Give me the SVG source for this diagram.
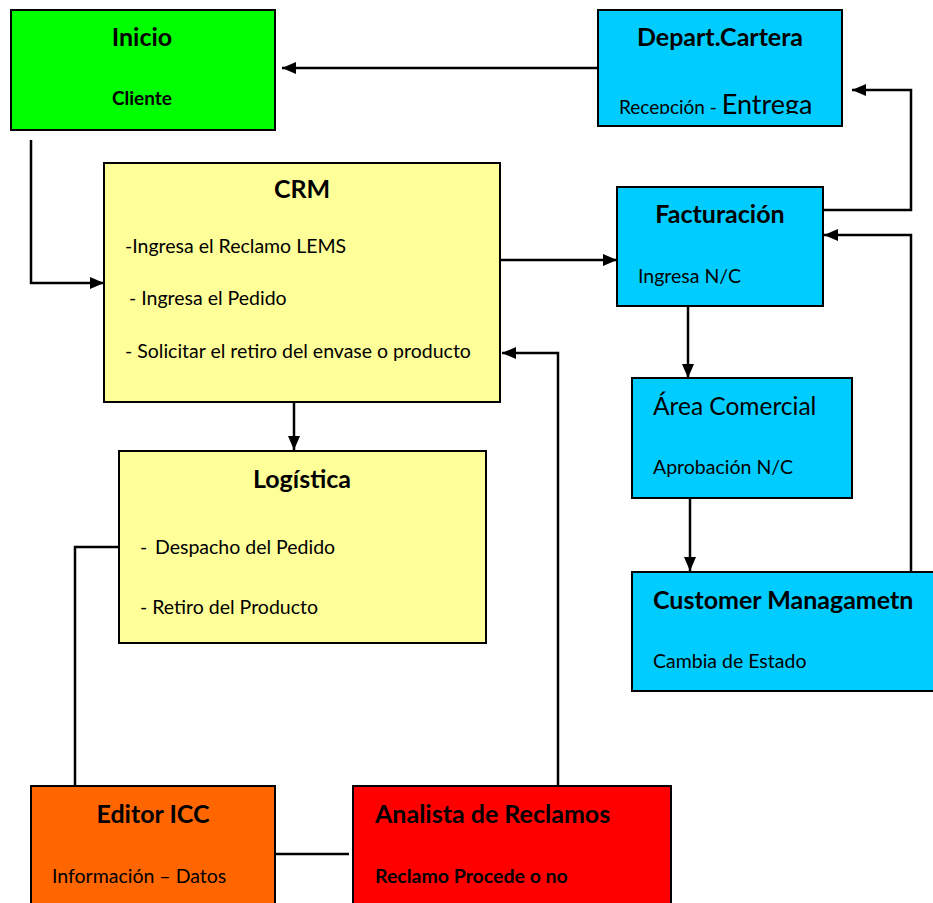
<svg xmlns="http://www.w3.org/2000/svg" width="933" height="903" viewBox="0 0 933 903">
<defs>
<marker id="ah" viewBox="0 0 14 12" refX="14" refY="6" markerWidth="14" markerHeight="12" markerUnits="userSpaceOnUse" orient="auto">
<path d="M0,0 L14,6 L0,12 z" fill="#000"/>
</marker>
<clipPath id="clipCart"><rect x="598" y="10" width="244" height="104"/></clipPath>
</defs>
<style>
.box{stroke:#000;stroke-width:2}
.t{font-family:Lato,"Open Sans","Liberation Sans",sans-serif;fill:#000}
.b{font-weight:bold}
.h{font-size:25px;font-weight:bold}
.s{font-size:19.5px}
.c{stroke:#000;stroke-width:2.5;fill:none}
</style>
<rect width="933" height="903" fill="#fff"/>
<g id="connectors">
<path class="c" d="M604,68 H282" marker-end="url(#ah)"/>
<path class="c" d="M823,210 H911 V90 H852" marker-end="url(#ah)"/>
<path class="c" d="M911,572 V235 H824" marker-end="url(#ah)"/>
<path class="c" d="M31,140 V283 H104" marker-end="url(#ah)"/>
<path class="c" d="M500,260 H617" marker-end="url(#ah)"/>
<path class="c" d="M558,786 V353 H502" marker-end="url(#ah)"/>
<path class="c" d="M294,402 V450" marker-end="url(#ah)"/>
<path class="c" d="M119,547 H75 V786"/>
<path class="c" d="M275,854 H349"/>
<path class="c" d="M688,306 V378" marker-end="url(#ah)"/>
<path class="c" d="M690,498 V571" marker-end="url(#ah)"/>
</g>
<g id="inicio">
<rect class="box" x="11" y="10" width="264" height="120" fill="#00FF00"/>
<text class="t h" x="142" y="46" text-anchor="middle">Inicio</text>
<text class="t b" x="142" y="105" font-size="19" text-anchor="middle">Cliente</text>
</g>
<g id="cartera">
<rect class="box" x="598" y="10" width="244" height="116" fill="#00CCFF"/>
<text class="t h" x="720" y="46" text-anchor="middle">Depart.Cartera</text>
<g clip-path="url(#clipCart)">
<text class="t" x="619" y="114" font-size="19">Recepción - <tspan font-size="27">Entrega</tspan></text>
</g>
</g>
<g id="facturacion">
<rect class="box" x="617" y="187" width="206" height="119" fill="#00CCFF"/>
<text class="t h" x="720" y="223" text-anchor="middle">Facturación</text>
<text class="t s" x="638" y="283">Ingresa N/C</text>
</g>
<g id="crm">
<rect class="box" x="104" y="163" width="396" height="239" fill="#FFFF99"/>
<text class="t h" x="302" y="198" text-anchor="middle">CRM</text>
<text class="t s" x="125" y="253">-Ingresa el Reclamo LEMS</text>
<text class="t s" x="129" y="305">- Ingresa el Pedido</text>
<text class="t s" x="125" y="358">- Solicitar el retiro del envase o producto</text>
</g>
<g id="logistica">
<rect class="box" x="119" y="451" width="367" height="192" fill="#FFFF99"/>
<text class="t h" x="302" y="488" text-anchor="middle">Logística</text>
<text class="t s" x="140" y="554">‐ <tspan x="155">Despacho del Pedido</tspan></text>
<text class="t s" x="140" y="614">- Retiro del Producto</text>
</g>
<g id="area-comercial">
<rect class="box" x="632" y="378" width="220" height="120" fill="#00CCFF"/>
<text class="t" x="653" y="415" font-size="24.5">Área Comercial</text>
<text class="t s" x="653" y="474">Aprobación N/C</text>
</g>
<g id="customer">
<rect class="box" x="632" y="572" width="310" height="119" fill="#00CCFF"/>
<text class="t h" x="653" y="609">Customer Managametn</text>
<text class="t s" x="653" y="668">Cambia de Estado</text>
</g>
<g id="editor">
<rect class="box" x="31" y="786" width="244" height="130" fill="#FF6600"/>
<text class="t h" x="153" y="823" text-anchor="middle">Editor ICC</text>
<text class="t s" x="52" y="883">Información – Datos</text>
</g>
<g id="analista">
<rect class="box" x="353" y="786" width="318" height="130" fill="#FF0000"/>
<text class="t h" x="375" y="823">Analista de Reclamos</text>
<text class="t b" x="375" y="883" font-size="19.5">Reclamo Procede o no</text>
</g>
</svg>
